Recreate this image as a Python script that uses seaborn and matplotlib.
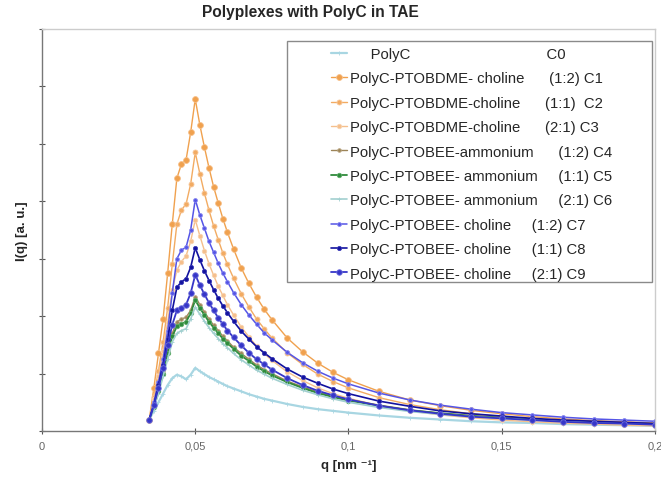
import numpy as np
import pandas as pd
import seaborn as sns
import matplotlib.pyplot as plt
from matplotlib.patches import Rectangle

# q grid (nm^-1)
q = [0.035, 0.0365, 0.038, 0.0395, 0.041, 0.0425, 0.044, 0.0455, 0.047, 0.0485, 0.05,
     0.0515, 0.053, 0.0545, 0.056, 0.0575, 0.059, 0.0605, 0.0625, 0.065, 0.0675, 0.07,
     0.0725, 0.075, 0.08, 0.085, 0.09, 0.095, 0.1, 0.11, 0.12, 0.13, 0.14, 0.15, 0.16,
     0.17, 0.18, 0.19, 0.2]

c0 = [0.2, 0.35, 0.5, 0.65, 0.8, 0.92, 0.98, 0.95, 0.9, 0.98, 1.1,
      1.04, 0.99, 0.94, 0.90, 0.86, 0.82, 0.78, 0.74, 0.69, 0.64, 0.60,
      0.56, 0.53, 0.47, 0.42, 0.38, 0.35, 0.32, 0.27, 0.23, 0.20, 0.17, 0.15, 0.14,
      0.12, 0.11, 0.10, 0.09]
c1 = [0.2, 0.75, 1.35, 1.95, 2.75, 3.6, 4.4, 4.65, 4.72, 5.2, 5.78,
      5.33, 4.94, 4.58, 4.25, 3.97, 3.70, 3.46, 3.17, 2.84, 2.57, 2.33,
      2.12, 1.94, 1.62, 1.38, 1.18, 1.02, 0.89, 0.69, 0.54, 0.44, 0.36, 0.30, 0.25,
      0.21, 0.18, 0.16, 0.14]
c2 = [0.2, 0.6, 1.05, 1.55, 2.15, 2.9, 3.6, 3.85, 3.95, 4.3, 4.85,
      4.48, 4.14, 3.84, 3.57, 3.33, 3.10, 2.90, 2.66, 2.39, 2.16, 1.95,
      1.78, 1.62, 1.36, 1.16, 0.99, 0.86, 0.75, 0.58, 0.46, 0.37, 0.30, 0.25, 0.21,
      0.18, 0.15, 0.13, 0.11]
c3 = [0.2, 0.55, 0.95, 1.4, 1.9, 2.45, 2.8, 2.95, 3.05, 3.3, 3.68,
      3.40, 3.14, 2.91, 2.71, 2.52, 2.36, 2.20, 2.02, 1.81, 1.64, 1.48,
      1.35, 1.23, 1.03, 0.88, 0.75, 0.65, 0.57, 0.44, 0.35, 0.28, 0.23, 0.19, 0.16,
      0.135, 0.12, 0.10, 0.09]
c4 = [0.2, 0.45, 0.75, 1.05, 1.4, 1.7, 1.9, 1.95, 1.98, 2.1, 2.34,
      2.20, 2.07, 1.95, 1.84, 1.75, 1.65, 1.57, 1.46, 1.35, 1.25, 1.15,
      1.07, 1.00, 0.87, 0.77, 0.68, 0.61, 0.55, 0.45, 0.37, 0.31, 0.27, 0.23, 0.20,
      0.18, 0.16, 0.14, 0.13]
c5 = [0.2, 0.42, 0.7, 1.0, 1.35, 1.65, 1.82, 1.87, 1.9, 2.05, 2.28,
      2.14, 2.02, 1.90, 1.80, 1.70, 1.61, 1.53, 1.43, 1.31, 1.22, 1.12,
      1.04, 0.97, 0.85, 0.75, 0.66, 0.59, 0.53, 0.44, 0.36, 0.31, 0.26, 0.23, 0.20,
      0.17, 0.15, 0.14, 0.12]
c6 = [0.2, 0.4, 0.65, 0.95, 1.25, 1.55, 1.7, 1.75, 1.78, 1.95, 2.16,
      2.03, 1.91, 1.80, 1.70, 1.61, 1.52, 1.45, 1.35, 1.24, 1.15, 1.06,
      0.99, 0.92, 0.81, 0.71, 0.63, 0.56, 0.50, 0.41, 0.34, 0.29, 0.25, 0.22, 0.19,
      0.17, 0.15, 0.13, 0.12]
c7 = [0.2, 0.5, 0.85, 1.25, 1.75, 2.4, 3.0, 3.15, 3.2, 3.5, 4.03,
      3.76, 3.53, 3.30, 3.11, 2.92, 2.75, 2.60, 2.41, 2.20, 2.02, 1.86,
      1.71, 1.59, 1.37, 1.19, 1.04, 0.92, 0.82, 0.66, 0.54, 0.45, 0.38, 0.32, 0.28,
      0.24, 0.21, 0.19, 0.17]
c8 = [0.2, 0.45, 0.8, 1.15, 1.6, 2.1, 2.5, 2.6, 2.65, 2.85, 3.19,
      2.98, 2.79, 2.62, 2.46, 2.31, 2.18, 2.06, 1.91, 1.74, 1.60, 1.47,
      1.36, 1.26, 1.08, 0.94, 0.83, 0.73, 0.65, 0.52, 0.43, 0.35, 0.30, 0.26, 0.22,
      0.19, 0.17, 0.15, 0.13]
c9 = [0.2, 0.45, 0.75, 1.1, 1.5, 1.85, 2.1, 2.15, 2.2, 2.4, 2.72,
      2.54, 2.38, 2.23, 2.10, 1.97, 1.86, 1.75, 1.63, 1.49, 1.36, 1.25,
      1.16, 1.07, 0.92, 0.80, 0.70, 0.62, 0.55, 0.44, 0.36, 0.30, 0.25, 0.22, 0.19,
      0.16, 0.14, 0.13, 0.11]

labels = [
    "     PolyC                                 C0",
    "PolyC-PTOBDME- choline      (1:2) C1",
    "PolyC-PTOBDME-choline      (1:1)  C2",
    "PolyC-PTOBDME-choline      (2:1) C3",
    "PolyC-PTOBEE-ammonium      (1:2) C4",
    "PolyC-PTOBEE- ammonium     (1:1) C5",
    "PolyC-PTOBEE- ammonium     (2:1) C6",
    "PolyC-PTOBEE- choline     (1:2) C7",
    "PolyC-PTOBEE- choline     (1:1) C8",
    "PolyC-PTOBEE- choline     (2:1) C9",
]
series = [c0, c1, c2, c3, c4, c5, c6, c7, c8, c9]

# color, edge color, marker, marker size, line width
estilos = [
    ("#a8d6e2", "#c8e6ee", "+", 3.0, 1.6),
    ("#f0a14e", "#f6c08a", "o", 4.2, 1.0),
    ("#f2ab62", "#f7c79a", "o", 3.6, 1.0),
    ("#f5bf8c", "#f8d4b0", "o", 3.2, 1.0),
    ("#9c8458", "#b8a47e", "o", 2.6, 1.0),
    ("#2f8a3c", "#5fae6a", "o", 3.2, 1.3),
    ("#a2d0d0", "#c4e2e2", "+", 3.0, 1.2),
    ("#5555e6", "#8a8af0", "o", 2.8, 1.1),
    ("#12129e", "#3a3ab8", "o", 3.0, 1.2),
    ("#3636c8", "#7272dc", "o", 4.0, 1.3),
]

sns.set_style("white")
plt.rcParams['font.family'] = ['Liberation Sans', 'DejaVu Sans']

fig = plt.figure(figsize=(6.61, 4.81), dpi=100)
ax = fig.add_axes([42/661, 1-432/481, 613/661, 402/481])

for vals, (col, ec, mk, ms, lw) in zip(series, estilos):
    df = pd.DataFrame({"q": q, "I": vals})
    sns.lineplot(data=df, x="q", y="I", ax=ax, color=col, marker=mk, markersize=ms,
                 markeredgecolor=ec if mk == "o" else col, markeredgewidth=0.6,
                 linewidth=lw, errorbar=None, legend=False)

ax.set_xlim(0, 0.2)
ax.set_ylim(0, 7)
ax.set_xticks([0, 0.05, 0.1, 0.15, 0.2])
ax.set_xticklabels(["0", "0,05", "0,1", "0,15", "0,2"])
ax.set_yticks(range(0, 8))
ax.set_yticklabels([])
ax.tick_params(axis='both', direction='inout', length=4, width=0.8, colors='#555555',
               labelsize=8, labelcolor='#666666', pad=5)
ax.tick_params(axis='x', bottom=True)
ax.tick_params(axis='y', left=True)
for s in ['left', 'bottom']:
    ax.spines[s].set_color('#777777')
    ax.spines[s].set_linewidth(1.0)
for s in ['top', 'right']:
    ax.spines[s].set_color('#cccccc')
    ax.spines[s].set_linewidth(1.0)

ax.set_xlabel("q [nm ⁻¹]", fontsize=9.5, fontweight='bold', labelpad=6)
ax.set_ylabel("I(q) [a. u.]", fontsize=9.5, fontweight='bold', labelpad=3)

fig.text(310/661, 1-13/481, "Polyplexes with PolyC in TAE", ha='center', va='center',
         fontsize=11.2, fontweight='bold')

# legend box
fig.patches.append(Rectangle((287/661, 1-283/481), 365/661, 241/481, transform=fig.transFigure,
                             facecolor='white', edgecolor='#8a8a8a', linewidth=1.0, zorder=5))
handles = ax.get_lines()[:len(labels)]
leg = fig.legend(handles, labels, loc='upper left', bbox_to_anchor=(331/661, 1-48/481),
                 frameon=False, fontsize=10.7, handlelength=1.1, handletextpad=0.2,
                 labelspacing=0.70, borderpad=0, borderaxespad=0)
leg.set_zorder(6)

plt.savefig("out.png", dpi=100)
